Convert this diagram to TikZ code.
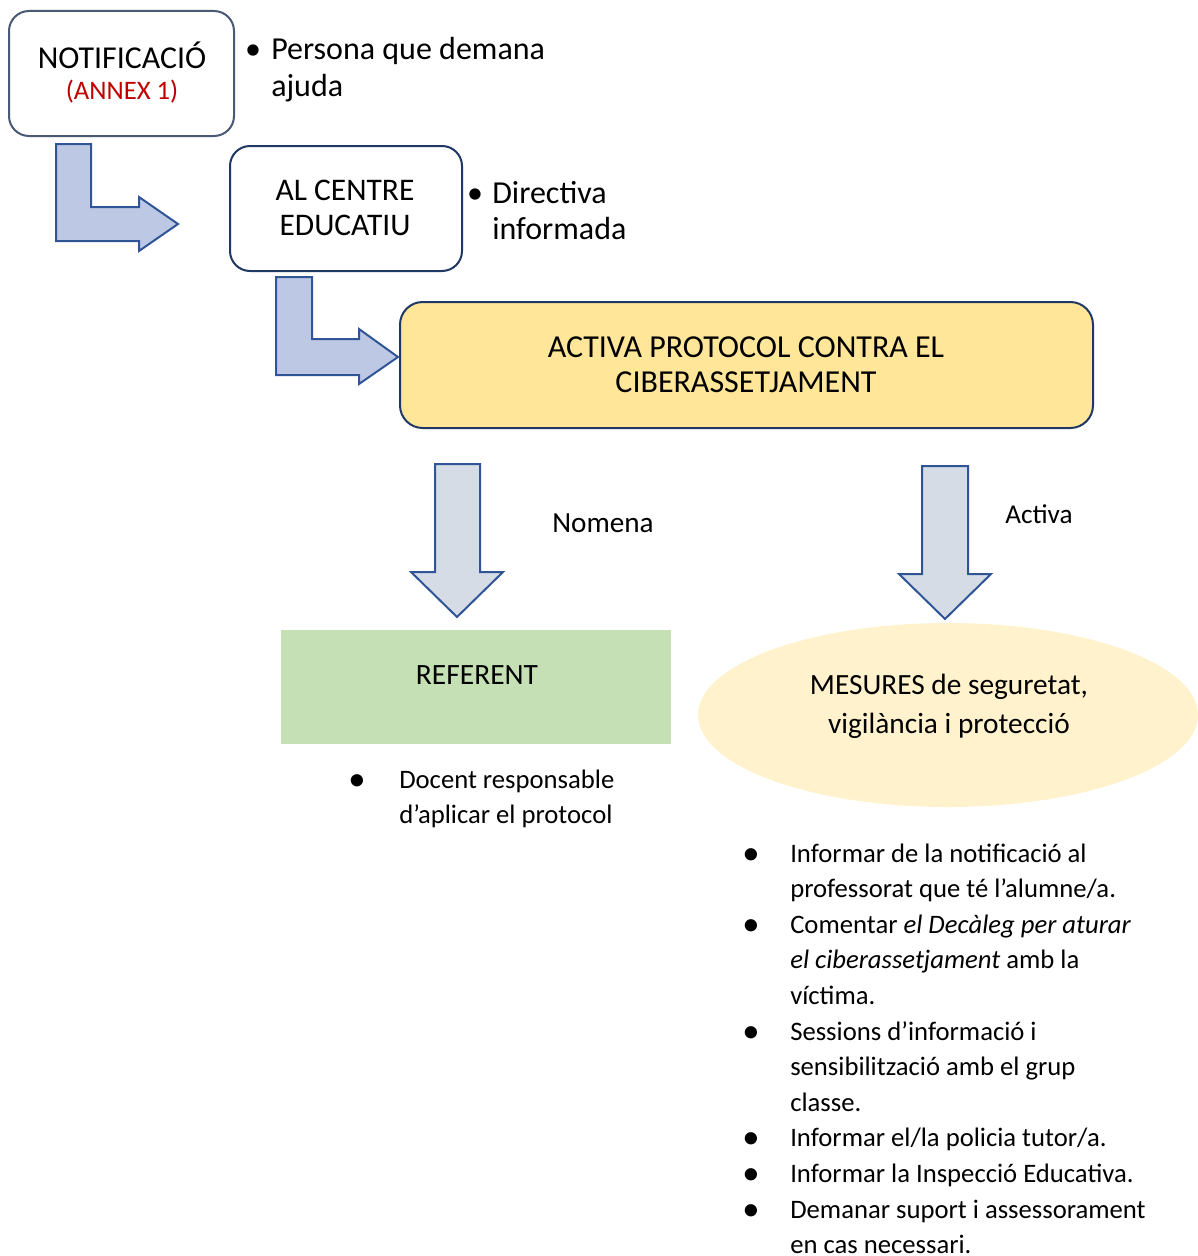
\documentclass[tikz,border=0pt]{standalone}
\usepackage{fontspec}
\setmainfont{Carlito}
\usetikzlibrary{shapes.geometric}
\definecolor{notifline}{HTML}{4A5A75}
\definecolor{navyline}{HTML}{203864}
\definecolor{arrowline}{HTML}{2F5597}
\definecolor{bentfill}{HTML}{BDC8E4}
\definecolor{downfill}{HTML}{D6DCE5}
\definecolor{activafill}{HTML}{FFE699}
\definecolor{referfill}{HTML}{C5E0B4}
\definecolor{mesfill}{HTML}{FFF2CC}
\definecolor{annexred}{HTML}{C00000}
\newcommand\fz[2]{\fontsize{#1pt}{#2pt}\selectfont}
\newcommand\lns[2]{\begin{tabular}[t]{@{}#1@{}}#2\end{tabular}}
\newcommand\bigbul{\raisebox{-1.6pt}{\scalebox{1.3}{•}}}
\newcommand\bl{\makebox[36pt][l]{\bigbul}}
\newcommand\ind{\hspace*{36pt}}
\begin{document}
\begin{tikzpicture}[x=0.75pt,y=-0.75pt,
  box/.style={draw, line width=1.5pt, fill=white, rounded corners=15pt, inner sep=0},
  bentarrow/.style={draw=arrowline, line width=1.5pt, fill=bentfill, line join=miter},
  downarrow/.style={draw=arrowline, line width=1.5pt, fill=downfill, line join=miter},
  txt/.style={inner sep=0, anchor=base, text=black},
  txtw/.style={inner sep=0, anchor=base west, text=black}]
\useasboundingbox (0,0) rectangle (1198,1256);

% boxes
\node (notif) [box, draw=notifline, minimum width=225*0.75pt, minimum height=125*0.75pt] at (121.5,73.5) {};
\node (centre) [box, draw=navyline, minimum width=232*0.75pt, minimum height=125*0.75pt] at (346,208.5) {};
\node (activa) [box, draw=navyline, fill=activafill, rounded corners=17pt, minimum width=693*0.75pt, minimum height=126*0.75pt] at (746.5,365) {};
\node (referent) [fill=referfill, inner sep=0, minimum width=390*0.75pt, minimum height=114*0.75pt] at (476,687) {};
\node (mesures) [ellipse, fill=mesfill, inner sep=0, minimum width=500*0.75pt, minimum height=184*0.75pt] at (948,715) {};

% bent arrows
\draw[bentarrow] (56,144) -- (91,144) -- (91,207) -- (139,207) -- (139,197) -- (178,224) -- (139,251) -- (139,241) -- (56,241) -- cycle;
\draw[bentarrow] (276,277) -- (312,277) -- (312,339) -- (359,339) -- (359,329) -- (398,357) -- (359,384) -- (359,375) -- (276,375) -- cycle;

% down arrows
\draw[downarrow] (435,464) -- (480,464) -- (480,572) -- (503,572) -- (457,617) -- (411,572) -- (435,572) -- cycle;
\draw[downarrow] (922,466) -- (968,466) -- (968,574) -- (991,574) -- (945,619) -- (899,574) -- (922,574) -- cycle;

% texts in boxes
\node (t1) [txt, font=\fz{23.9}{28}] at (122,69) {NOTIFICACIÓ};
\node (t2) [txt, font=\fz{20}{24}, text=annexred] at (122,99) {(ANNEX 1)};
\node (t3) [txt, font=\fz{23.6}{26.5}] at (345,200) {\lns{c}{AL CENTRE\\EDUCATIU}};
\node (t4) [txt, font=\fz{24}{26.25}] at (746,357) {\lns{c}{ACTIVA PROTOCOL CONTRA EL\\CIBERASSETJAMENT}};
\node (t5) [txt, font=\fz{22.1}{25}] at (477,684) {REFERENT};
\node (t6) [txt, font=\fz{22}{29.75}] at (949,694) {\lns{c}{MESURES de seguretat,\\vigilància i protecció}};

% side texts
\node (b1) [txt, font=\fz{24}{27.5}] at (253,60) {•};
\node (s1) [txtw, font=\fz{24}{27.5}] at (271,60) {\lns{l}{Persona que demana\\ajuda}};
\node (b2) [txt, font=\fz{24}{27.5}] at (475,203) {•};
\node (s2) [txtw, font=\fz{24}{27.5}] at (492,203) {\lns{l}{Directiva\\informada}};
\node (s3) [txtw, font=\fz{21.9}{26}] at (552,532) {Nomena};
\node (s4) [txtw, font=\fz{20.4}{24}] at (1005,523) {Activa};

% referent bullet
\node (b3) [txt, font=\fz{20}{26.25}] at (357,788) {\bigbul};
\node (s5) [txtw, font=\fz{20}{26.25}] at (399,788) {\lns{l}{Docent responsable\\d’aplicar el protocol}};

% mesures list
\node (s6) [txtw, font=\fz{20}{26.7}] at (742,862) {\lns{l}{%
\bl Informar de la notificació al\\
\ind professorat que té l’alumne/a.\\
\bl Comentar \textit{el Decàleg per aturar}\\
\ind \textit{el ciberassetjament} amb la\\
\ind víctima.\\
\bl Sessions d’informació i\\
\ind sensibilització amb el grup\\
\ind classe.\\
\bl Informar el/la policia tutor/a.\\
\bl Informar la Inspecció Educativa.\\
\bl Demanar suport i assessorament\\
\ind en cas necessari.}};
\end{tikzpicture}
\end{document}
